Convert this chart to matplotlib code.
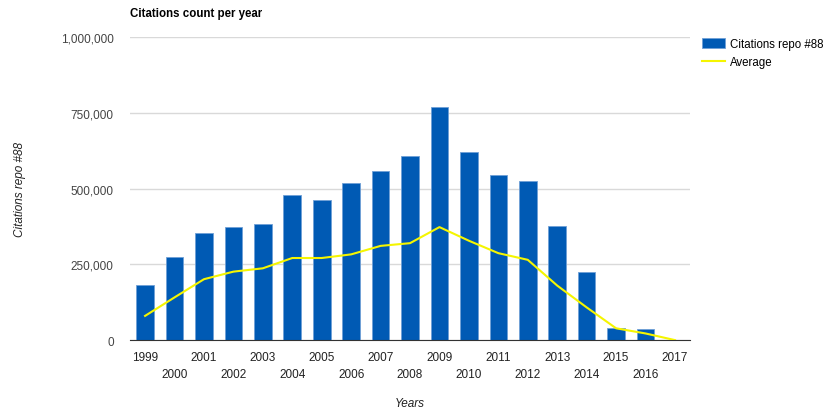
import matplotlib.pyplot as plt
import numpy as np

years = [str(y) for y in range(1999, 2018)]
citations = [180600, 273000, 352000, 374000, 382000, 478000, 461000, 518000, 559000,
             609000, 769000, 622000, 545000, 525000, 376000, 225000, 41000, 36000, 0]
average = [80000, 141000, 201000, 226000, 237000, 271000, 271000, 283000, 311000,
           320000, 373000, 328000, 287000, 265000, 180000, 108000, 39000, 22000, 0]

plt.rcParams['font.family'] = ['Liberation Sans', 'DejaVu Sans']

fig = plt.figure(figsize=(8.25, 4.1), dpi=100)
ax = fig.add_axes([0.158, 0.168, 0.678, 0.739])

xpos = np.arange(len(years))
bars = ax.bar(xpos, citations, width=0.6, color='#005ab4', edgecolor='#6f9fd6',
              linewidth=0.6, label='Citations repo #88', zorder=2)
line, = ax.plot(xpos, average, color='#f5f500', linewidth=1.5, label='Average', zorder=3)

ax.set_ylim(0, 1000000)
ax.set_xlim(-0.5, len(years) - 0.5)
ax.set_yticks([0, 250000, 500000, 750000, 1000000])
ax.set_yticklabels(['0', '250,000', '500,000', '750,000', '1,000,000'])
ax.grid(axis='y', color='#d9d9d9', linewidth=1, zorder=0)
ax.set_axisbelow(True)

# staggered labels like google charts
labels = [y if i % 2 == 0 else '\n' + y for i, y in enumerate(years)]
ax.set_xticks(xpos)
ax.set_xticklabels(labels, fontsize=8.5, color='#222222', linespacing=1.5)
ax.tick_params(axis='y', labelsize=8.5, labelcolor='#444444', length=0, pad=12)
ax.tick_params(axis='x', length=0, pad=8)

for s in ['top', 'right', 'left']:
    ax.spines[s].set_visible(False)
ax.spines['bottom'].set_color('#333333')

fig.text(410 / 825, 6 / 410, 'Years', fontsize=8.5, style='italic', color='#222222',
         ha='center', va='center')
fig.text(20 / 825, 0.537, 'Citations repo #88', fontsize=8.5, style='italic',
         color='#222222', rotation=90, ha='center', va='center')

fig.text(130 / 825, 0.965, 'Citations count per year', fontsize=8.3, fontweight='bold',
         color='#000000', va='center')

fig.legend([bars, line], ['Citations repo #88', 'Average'], loc='upper left',
           bbox_to_anchor=(702 / 825, 0.905), frameon=False, borderpad=0,
           fontsize=8.3, handlelength=2.0, handleheight=0.95, labelspacing=0.55,
           borderaxespad=0, handletextpad=0.45)

fig.savefig('out.png', dpi=100)
